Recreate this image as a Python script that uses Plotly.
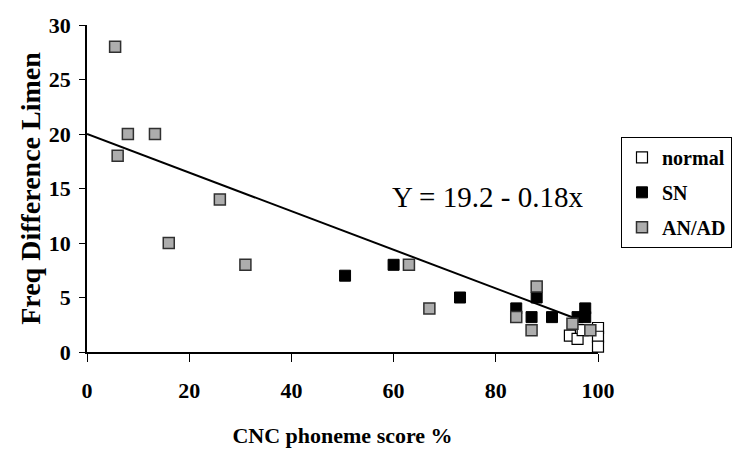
import plotly.graph_objects as go

# CNC phoneme score (%) vs frequency difference limen
normal_x = [94.5, 96, 97, 100, 100, 100]
normal_y = [1.5, 1.2, 2.0, 2.2, 1.4, 0.5]

sn_x = [50.5, 60, 73, 84, 87, 88, 91, 96, 97.5, 97.5]
sn_y = [7, 8, 5, 4, 3.2, 5, 3.2, 3.2, 4, 3.2]

anad_x = [5.5, 6, 8, 13.3, 16, 26, 31, 63, 67, 84, 87, 88, 95, 98.5]
anad_y = [28, 18, 20, 20, 10, 14, 8, 8, 4, 3.2, 2, 6, 2.6, 2]

# regression line as drawn
fit_intercept = 20.0
fit_slope = -0.177
fit_x = [0, 95.5]
fit_y = [fit_intercept + fit_slope * x for x in fit_x]

serif = "Liberation Serif, Times New Roman, serif"

fig = go.Figure()

fig.add_trace(go.Scatter(
    x=fit_x, y=fit_y, mode='lines',
    line=dict(color='black', width=2),
    showlegend=False, hoverinfo='skip'
))

fig.add_trace(go.Scatter(
    x=normal_x, y=normal_y, mode='markers', name='normal', legendgroup='a',
    marker=dict(symbol='square', size=11, color='white',
                line=dict(color='black', width=1.2)),
    cliponaxis=False
))
fig.add_trace(go.Scatter(
    x=sn_x, y=sn_y, mode='markers', name='SN', legendgroup='b',
    marker=dict(symbol='square', size=11, color='black',
                line=dict(color='black', width=1)),
    cliponaxis=False
))
fig.add_trace(go.Scatter(
    x=anad_x, y=anad_y, mode='markers', name='AN/AD', legendgroup='c',
    marker=dict(symbol='square', size=11, color='#adadad',
                line=dict(color='#303030', width=1.5)),
    cliponaxis=False
))

fig.add_annotation(
    x=78.3, y=14.2, xref='x', yref='y',
    text='Y = 19.2 - 0.18x', showarrow=False,
    font=dict(family=serif, size=29, color='black')
)

# page body has an 8px margin, so the figure is a bit smaller than the window
fig.update_layout(
    width=736, height=455,
    margin=dict(l=79, r=146, t=17, b=111),
    paper_bgcolor='white', plot_bgcolor='white',
    font=dict(family=serif, color='black'),
    xaxis=dict(
        range=[0, 100], tickvals=[0, 20, 40, 60, 80, 100],
        showline=True, linecolor='black', linewidth=1.5,
        ticks='outside', ticklen=8, tickcolor='black',
        ticklabelstandoff=10,
        showgrid=False, zeroline=False, automargin=False,
        tickfont=dict(family=serif, size=22, color='black', weight='bold'),
        title=dict(text='<b>CNC phoneme score %</b>', standoff=25,
                   font=dict(family=serif, size=22, color='black'))
    ),
    yaxis=dict(
        range=[0, 30], tickvals=[0, 5, 10, 15, 20, 25, 30],
        showline=True, linecolor='black', linewidth=1.5,
        ticks='outside', ticklen=6, tickcolor='black',
        ticklabelstandoff=4,
        showgrid=False, zeroline=False, automargin=False,
        tickfont=dict(family=serif, size=22, color='black', weight='bold'),
        title=dict(text='<b>Freq Difference Limen</b>', standoff=0,
                   font=dict(family=serif, size=28, color='black'))
    ),
    legend=dict(
        x=1.045, y=0.658, xanchor='left', yanchor='top',
        bgcolor='white', bordercolor='black', borderwidth=1,
        font=dict(family=serif, size=20, color='black', weight='bold'),
        itemwidth=30, tracegroupgap=6
    )
)

fig.write_html("out.html")
